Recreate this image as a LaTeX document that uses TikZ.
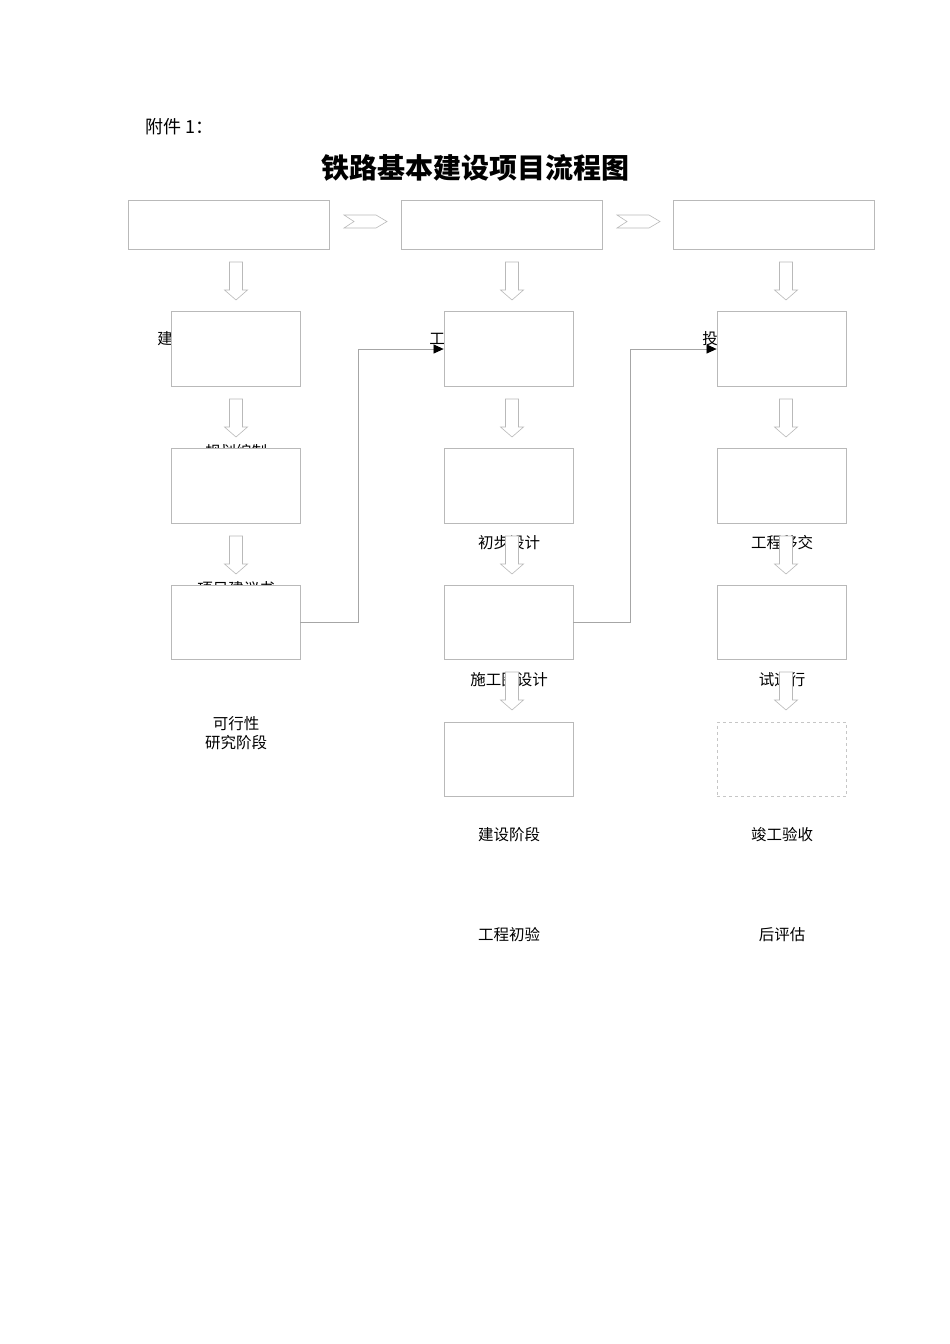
\documentclass[tikz,border=0pt]{standalone}
\usepackage{fontspec}
\setmainfont{Noto Sans CJK SC}
\usetikzlibrary{arrows.meta}

\tikzset{
	stagebox/.style={draw=gray!55, fill=white, line width=0.8pt, minimum width=201pt, minimum height=49pt, inner sep=0pt},
	stepbox/.style={draw=gray!55, fill=white, line width=0.8pt, minimum width=129pt, minimum height=74.5pt, inner sep=0pt},
	lbl/.style={font=\fontsize{15.5}{19}\selectfont, inner sep=0pt, align=center},
	blockarrow/.style={draw=gray!55, fill=white, line width=0.6pt},
	link/.style={draw=gray!70, line width=0.7pt, -{Triangle[length=10pt,width=9pt,color=black]}},
}
% hollow arrow pointing down: centre x, top y
\newcommand\downblock[2]{\draw[blockarrow] (#1-6.5,#2) -- (#1+6.5,#2) -- (#1+6.5,#2+28) -- (#1+11.5,#2+28) -- (#1,#2+38) -- (#1-11.5,#2+28) -- (#1-6.5,#2+28) -- cycle;}
% chevron between stages: left x, top y
\newcommand\stagechevron[2]{\draw[blockarrow] (#1,#2) -- (#1+32,#2) -- (#1+43,#2+6.5) -- (#1+32,#2+13) -- (#1,#2+13) -- (#1+10,#2+6.5) -- cycle;}

\begin{document}
\begin{tikzpicture}[x=1pt,y=-1pt]
	\useasboundingbox (0,0) rectangle (950,1344);

	% heading
	\node (annex) [anchor=west, inner sep=0pt, font=\fontsize{18}{21}\selectfont] at (145,127) {附件 1：};
	\node (title) [inner sep=0pt, font=\fontsize{28}{34}\selectfont\bfseries] at (475,168) {铁路基本建设项目流程图};

	% labels (partly hidden by the boxes, as in the original)
	\node (jian) [lbl] at (165,339) {建};
	\node (gong) [lbl] at (437,339) {工};
	\node (tou) [lbl] at (710,339) {投};
	\node (plan) [lbl] at (236,452) {规划编制};
	\node (proposal) [lbl] at (236,589) {项目建议书};
	\node (prelim) [lbl] at (509,543) {初步设计};
	\node (handover) [lbl] at (782,543) {工程移交};
	\node (drawing) [lbl] at (509,680) {施工图设计};
	\node (trialrun) [lbl] at (782,680) {试运行};
	\node (feasib) [lbl] at (236,733) {可行性\\研究阶段};
	\node (build) [lbl] at (509,835) {建设阶段};
	\node (accept) [lbl] at (782,835) {竣工验收};
	\node (initacc) [lbl] at (509,935) {工程初验};
	\node (posteval) [lbl] at (782,935) {后评估};

	% stage boxes
	\node (stageA) [stagebox] at (228.5,224.5) {};
	\node (stageB) [stagebox] at (501.5,224.5) {};
	\node (stageC) [stagebox] at (774,224.5) {};
	\stagechevron{344}{215}
	\stagechevron{617}{215}

	% step boxes
	\node (a1) [stepbox] at (235.5,349) {};
	\node (a2) [stepbox] at (235.5,486) {};
	\node (a3) [stepbox] at (235.5,622.5) {};
	\node (b1) [stepbox] at (508.5,349) {};
	\node (b2) [stepbox] at (508.5,486) {};
	\node (b3) [stepbox] at (508.5,622.5) {};
	\node (b4) [stepbox] at (508.5,759.5) {};
	\node (c1) [stepbox] at (781.5,349) {};
	\node (c2) [stepbox] at (781.5,486) {};
	\node (c3) [stepbox] at (781.5,622.5) {};
	\node (c4) [stepbox, dashed, draw=gray!45] at (781.5,759.5) {};

	% hollow down arrows
	\foreach \y in {262,399,536} {
		\downblock{236}{\y}
	}
	\foreach \y in {262,399,536,672} {
		\downblock{512}{\y}
		\downblock{786}{\y}
	}

	% links between columns
	\draw [link] (a3.east) -- (358,622.5) |- (b1.west);
	\draw [link] (b3.east) -- (630,622.5) |- (c1.west);
\end{tikzpicture}
\end{document}
